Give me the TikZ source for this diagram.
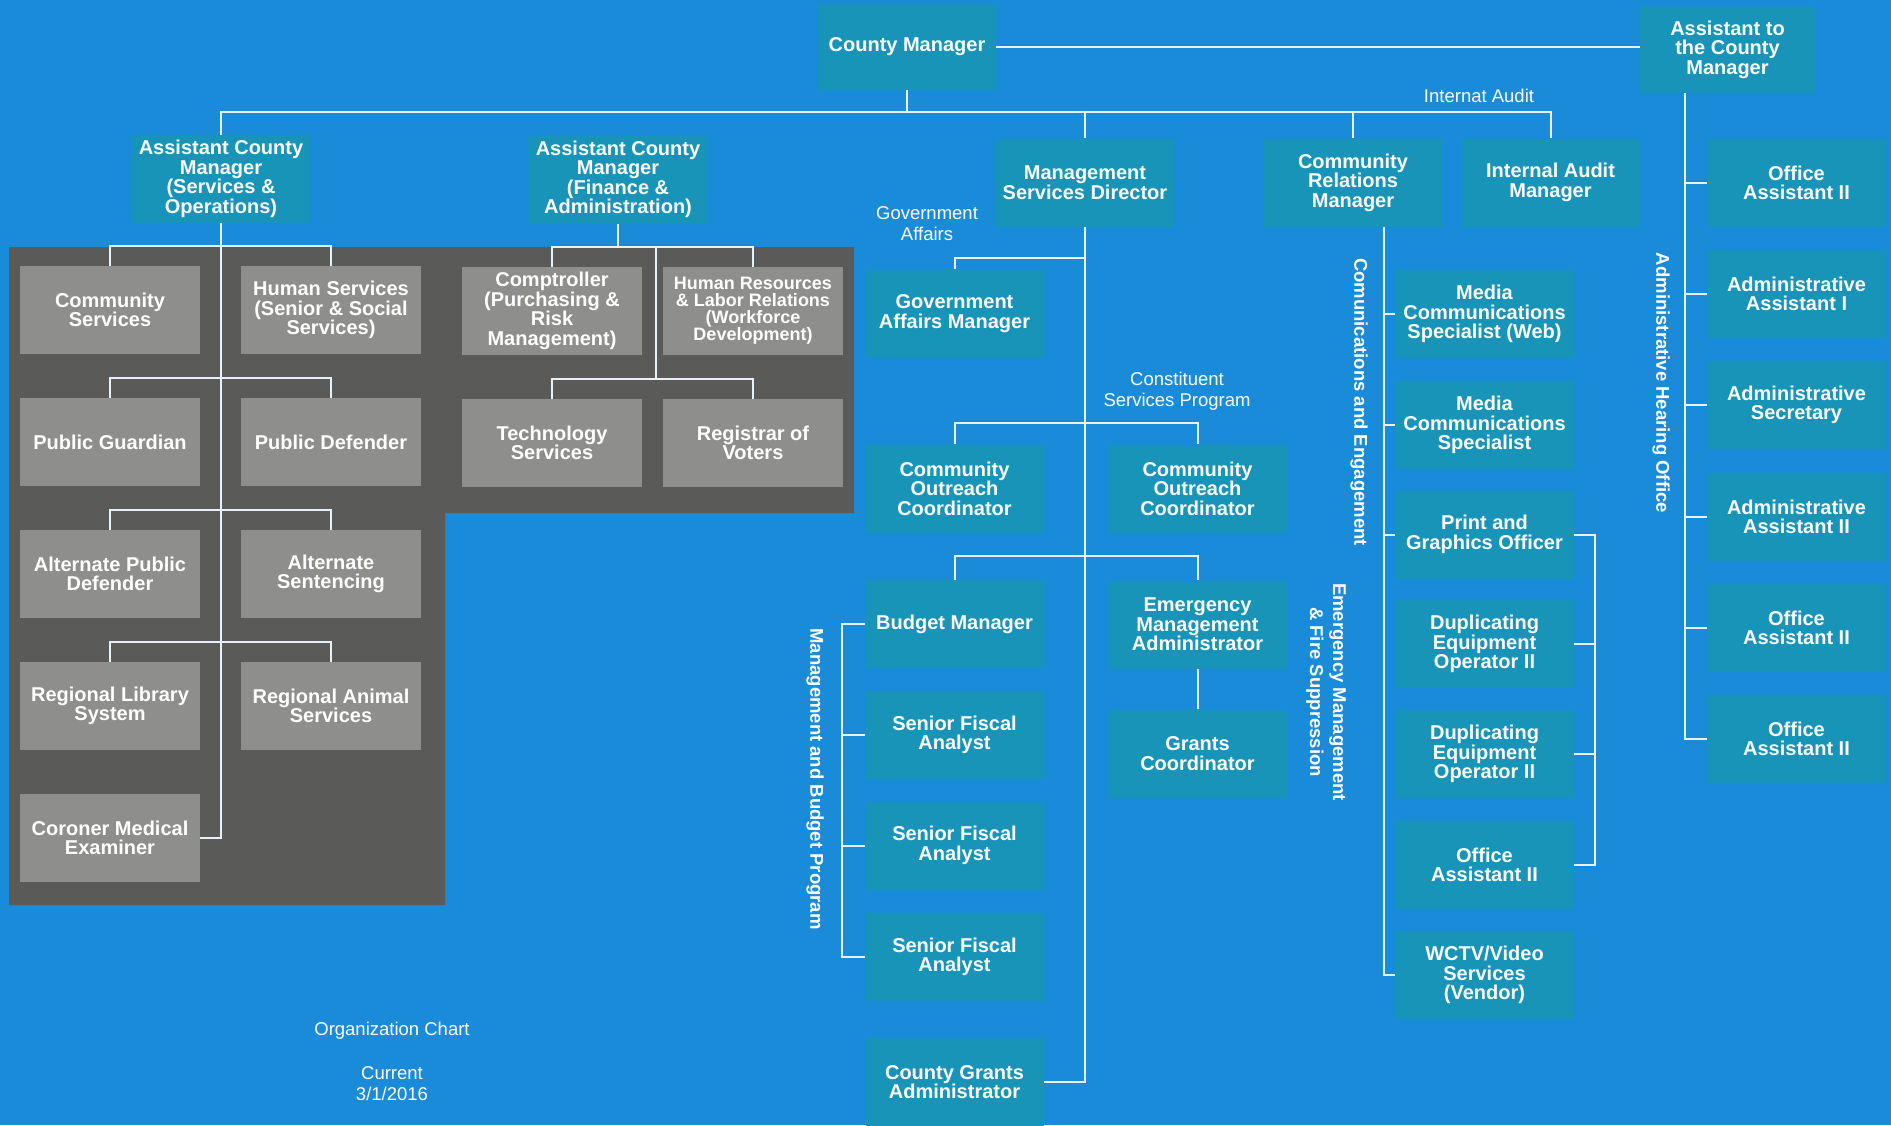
\documentclass[tikz,border=0pt]{standalone}
\usepackage{fontspec}
\setmainfont{Liberation Sans}
\usetikzlibrary{calc}
\definecolor{bgblue}{HTML}{1A8BD8}
\definecolor{tealbox}{HTML}{1894B8}
\definecolor{panelgray}{HTML}{5A5B59}
\definecolor{boxgray}{HTML}{8E8E8C}
\definecolor{linec}{HTML}{E6F2F8}
\newcommand\oxBox{\bfseries\fontsize{20}{19.5}\selectfont}
\newcommand\oxSmall{\bfseries\fontsize{18}{17}\selectfont}
\newcommand\oxLbl{\fontsize{18.5}{21}\selectfont}
\newcommand\oxVert{\bfseries\fontsize{18.5}{23}\selectfont}
\tikzset{
  tbox/.style={fill=tealbox, text=white, minimum width=178pt, minimum height=88pt, inner sep=0pt, align=center, font=\oxBox},
  gbox/.style={tbox, fill=boxgray, minimum width=180pt},
  conn/.style={draw=linec, line width=2pt},
  lbl/.style={text=white, align=center, font=\oxLbl, inner sep=0pt},
  vlbl/.style={text=white, align=center, font=\oxVert, rotate=-90, inner sep=0pt},
}
\begin{document}
\begin{tikzpicture}[x=1pt,y=-1pt]
\useasboundingbox (0,0) rectangle (1891,1125);
\fill[bgblue] (0,0) rectangle (1891,1125);
\fill[panelgray] (9,247) -- (854,247) -- (854,513) -- (445,513) -- (445,905) -- (9,905) -- cycle;

% top level
\node[tbox, minimum height=86pt] (cm) at (907,47) {County Manager};
\node[tbox, minimum width=175pt, minimum height=87pt] (atcm) at (1727.5,49.5) {Assistant to\\the County\\Manager};
\node[tbox] (acm1) at (221,179) {Assistant County\\Manager\\(Services \&\\Operations)};
\node[tbox] (acm2) at (618,179.5) {Assistant County\\Manager\\(Finance \&\\Administration)};
\node[tbox] (msd) at (1085,182.5) {Management\\Services Director};
\node[tbox] (crm) at (1353,182.5) {Community\\Relations\\Manager};
\node[tbox] (iam) at (1550.5,182.5) {Internal Audit\\Manager};

% right column
\node[tbox] (r1) at (1796.5,183) {Office\\Assistant II};
\node[tbox] (r2) at (1796.5,294) {Administrative\\Assistant I};
\node[tbox] (r3) at (1796.5,405) {Administrative\\Secretary};
\node[tbox] (r4) at (1796.5,517) {Administrative\\Assistant II};
\node[tbox] (r5) at (1796.5,628) {Office\\Assistant II};
\node[tbox] (r6) at (1796.5,739) {Office\\Assistant II};

% management services
\node[tbox] (gam) at (954.5,313.5) {Government\\Affairs Manager};
\node[tbox] (coc1) at (954.5,488.5) {Community\\Outreach\\Coordinator};
\node[tbox] (coc2) at (1197.5,488.5) {Community\\Outreach\\Coordinator};
\node[tbox] (bm) at (954.5,624) {Budget Manager};
\node[tbox] (ema) at (1197.5,624.5) {Emergency\\Management\\Administrator};
\node[tbox] (gc) at (1197.5,753.5) {Grants\\Coordinator};
\node[tbox] (sfa1) at (954.5,735) {Senior Fiscal\\Analyst};
\node[tbox] (sfa2) at (954.5,845.5) {Senior Fiscal\\Analyst};
\node[tbox] (sfa3) at (954.5,957) {Senior Fiscal\\Analyst};
\node[tbox] (cga) at (954.5,1082) {County Grants\\Administrator};

% community relations
\node[tbox] (mw) at (1484.5,314) {Media\\Communications\\Specialist (Web)};
\node[tbox] (ms) at (1484.5,425) {Media\\Communications\\Specialist};
\node[tbox] (pgo) at (1484.5,534.5) {Print and\\Graphics Officer};
\node[tbox] (de1) at (1484.5,644) {Duplicating\\Equipment\\Operator II};
\node[tbox] (de2) at (1484.5,754) {Duplicating\\Equipment\\Operator II};
\node[tbox] (oa) at (1484.5,865) {Office\\Assistant II};
\node[tbox] (wctv) at (1484.5,975) {WCTV/Video\\Services\\(Vendor)};

% gray boxes
\node[gbox] (cs) at (110,310) {Community\\Services};
\node[gbox] (hs) at (331,310) {Human Services\\(Senior \& Social\\Services)};
\node[gbox] (comp) at (552,311) {Comptroller\\(Purchasing \&\\Risk\\Management)};
\node[gbox, font=\oxSmall] (hr) at (753,311) {Human Resources\\\& Labor Relations\\(Workforce\\Development)};
\node[gbox] (pgd) at (110,442) {Public Guardian};
\node[gbox] (pdf) at (331,442) {Public Defender};
\node[gbox] (tech) at (552,443) {Technology\\Services};
\node[gbox] (reg) at (753,443) {Registrar of\\Voters};
\node[gbox] (apd) at (110,574) {Alternate Public\\Defender};
\node[gbox] (alts) at (331,574) {Alternate\\Sentencing};
\node[gbox] (rls) at (110,706) {Regional Library\\System};
\node[gbox] (ras) at (331,706) {Regional Animal\\Services};
\node[gbox] (cor) at (110,838) {Coroner Medical\\Examiner};

% connectors top
\coordinate (bus) at (907,112);
\draw[conn] (cm.east) -- (cm.east -| atcm.west);
\draw[conn] (cm.south) -- (bus);
\draw[conn] (acm1.north) -- (acm1.north |- bus) -- (iam.north |- bus) -- (iam.north);
\draw[conn] (msd.north) -- (msd.north |- bus);
\draw[conn] (crm.north) -- (crm.north |- bus);

% services & operations
\draw[conn] (acm1.south) |- (cor.east);
\foreach \a/\b in {cs/hs, pgd/pdf, apd/alts, rls/ras}
  \draw[conn] (\a.north) -- ++(0,-20) -| (\b.north);

% finance & administration
\coordinate (fa1) at (656,246);
\coordinate (fa2) at (656,378);
\draw[conn] (acm2.south) -- (acm2.south |- fa1);
\draw[conn] (comp.north) -- ++(0,-20) -| (hr.north);
\draw[conn] (tech.north) -- ++(0,-20) -| (reg.north);
\draw[conn] (fa1) -- (fa2);

% management services
\draw[conn] (msd.south) |- (cga.east);
\draw[conn] (gam.north) |- ($(msd.south)+(0,31)$);
\draw[conn] (coc1.north) -- ++(0,-21) -| (coc2.north);
\draw[conn] (bm.north) -- ++(0,-24) -| (ema.north);
\draw[conn] (ema.south) -- (gc.north);
\coordinate (mbk) at (842,624);
\draw[conn] (bm.west) -- (mbk) |- (sfa3.west);
\foreach \n in {sfa1, sfa2} \draw[conn] (\n.west) -- (\n.west -| mbk);

% community relations
\coordinate (crv) at (1384,226.5);
\draw[conn] (crv) |- (wctv.west);
\foreach \n in {mw, ms, pgo} \draw[conn] (\n.west) -- (\n.west -| crv);
\coordinate (crb) at (1595,534.5);
\draw[conn] (pgo.east) -- (crb) |- (oa.east);
\foreach \n in {de1, de2} \draw[conn] (\n.east) -- (\n.east -| crb);

% assistant to county manager
\coordinate (atv) at (1685,93);
\draw[conn] (atv) |- (r6.west);
\foreach \n in {r1, r2, r3, r4, r5} \draw[conn] (\n.west) -- (\n.west -| atv);

% labels
\node[lbl] (lia) at (1479,96) {Internat Audit};
\node[lbl] (lga) at (927,224) {Government\\Affairs};
\node[lbl] (lcs) at (1177,391) {Constituent\\Services Program};
\node[lbl] (loc) at (392,1031) {Organization Chart};
\node[lbl] (lcur) at (392,1084) {Current\\3/1/2016};
\node[vlbl] (vce) at (1359,402) {Comunications and Engagement};
\node[vlbl] (vah) at (1661,383) {Administrative Hearing Office};
\node[vlbl] (vmb) at (815,779) {Management and Budget Program};
\node[vlbl] (vem) at (1326,692) {Emergency Management\\\& Fire Suppression};
\end{tikzpicture}
\end{document}
